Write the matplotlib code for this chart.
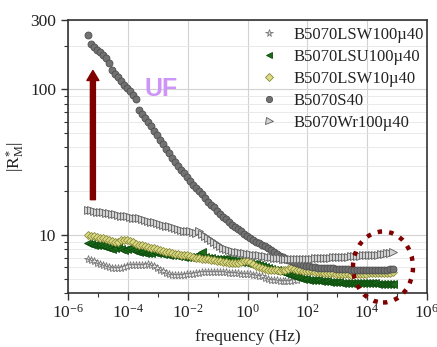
import numpy as np
import matplotlib
matplotlib.use("Agg")
import matplotlib.pyplot as plt
from matplotlib.patches import Ellipse
from matplotlib.ticker import FixedLocator, FixedFormatter, NullFormatter

plt.rcParams['font.family'] = ['Liberation Serif', 'DejaVu Serif']
plt.rcParams['mathtext.fontset'] = 'custom'
plt.rcParams['mathtext.rm'] = 'Liberation Serif'
plt.rcParams['mathtext.it'] = 'Liberation Serif:italic'

# measurement frequencies (log-spaced sweep, 10 points per decade, Hz)
freq = 10 ** np.linspace(-5.33, 4.87, 103)

labels = ['B5070LSW100µ40', 'B5070LSU100µ40', 'B5070LSW10µ40', 'B5070S40', 'B5070Wr100µ40']

lsw100 = [6.9, 6.75, 6.6, 6.45, 6.3, 6.2, 6.1, 6.0, 5.9, 5.9,
          5.9, 5.95, 6.0, 6.1, 6.2, 6.2, 6.2, 6.2, 6.2, 6.25,
          6.3, 6.2, 6.1, 5.95, 5.8, 5.65, 5.5, 5.4, 5.35, 5.3,
          5.3, 5.3, 5.35, 5.38, 5.4, 5.42, 5.45, 5.5, 5.6, 5.6,
          5.6, 5.6, 5.6, 5.6, 5.6, 5.58, 5.55, 5.52, 5.5, 5.48,
          5.45, 5.42, 5.4, 5.4, 5.4, 5.35, 5.3, 5.25, 5.2, 5.1,
          5.0, 4.95, 4.9, 4.88, 4.85, 4.85, 4.85, 4.85, 4.85, 4.88,
          4.9]
lsu100 = [8.8, 8.7, 8.6, 8.55, 8.5, 8.4, 8.3, 8.2, 8.0, 8.1,
          8.4, 8.0, 7.9, 8.0, 8.1, 7.9, 7.8, 7.7, 7.6, 7.55,
          7.5, 7.55, 7.6, 7.55, 7.5, 7.45, 7.4, 7.35, 7.3, 7.25,
          7.2, 7.15, 7.1, 7.1, 7.1, 7.1, 7.2, 7.4, 7.6, 7.1,
          7.0, 6.95, 6.9, 6.88, 6.85, 6.82, 6.8, 6.75, 6.7, 6.65,
          6.6, 6.55, 6.5, 6.45, 6.4, 6.35, 6.3, 6.2, 6.1, 6.0,
          5.9, 5.85, 5.8, 5.75, 5.7, 5.6, 5.5, 5.4, 5.3, 5.2,
          5.15, 5.08, 5.0, 4.98, 4.95, 4.92, 4.9, 4.88, 4.85, 4.82,
          4.8, 4.78, 4.75, 4.75, 4.75, 4.72, 4.7, 4.7, 4.7, 4.7,
          4.7, 4.68, 4.65, 4.65, 4.65, 4.65, 4.65, 4.62, 4.6, 4.6,
          4.6, 4.6, 4.6]
lsw10 = [10.0, 9.9, 9.8, 9.7, 9.6, 9.5, 9.4, 9.2, 9.1, 9.0,
         9.0, 9.2, 9.3, 9.2, 9.1, 8.9, 8.7, 8.6, 8.5, 8.4,
         8.3, 8.2, 8.1, 8.0, 7.9, 7.8, 7.7, 7.6, 7.5, 7.45,
         7.4, 7.35, 7.3, 7.25, 7.2, 7.1, 7.0, 6.95, 6.9, 6.85,
         6.8, 6.75, 6.7, 6.65, 6.6, 6.55, 6.5, 6.45, 6.4, 6.4,
         6.4, 6.5, 6.6, 6.6, 6.5, 6.3, 6.1, 6.0, 5.9, 5.85,
         5.8, 5.78, 5.75, 5.72, 5.7, 5.75, 5.8, 5.85, 5.9, 5.85,
         5.8, 5.75, 5.7, 5.68, 5.65, 5.62, 5.6, 5.58, 5.55, 5.52,
         5.5, 5.48, 5.45, 5.42, 5.4, 5.4, 5.4, 5.38, 5.35, 5.38,
         5.4, 5.4, 5.4, 5.42, 5.45, 5.45, 5.45, 5.48, 5.5, 5.5,
         5.5, 5.52, 5.55]
s40 = [237, 205, 196, 188, 180, 172, 164, 152, 136, 128,
       121, 114, 108, 102, 97, 92, 86, 72, 68, 64,
       60, 56, 52, 48.5, 45, 42, 39, 36.5, 34, 32,
       30, 28, 26.5, 25, 23.5, 22.2, 21, 20, 19, 18,
       17, 16.2, 15.5, 14.7, 14, 13.4, 12.8, 12.3, 11.8, 11.4,
       11.0, 10.6, 10.2, 9.8, 9.5, 9.2, 9.0, 8.8, 8.6, 8.35,
       8.1, 7.85, 7.6, 7.4, 7.2, 7.05, 6.9, 6.75, 6.6, 6.5,
       6.4, 6.3, 6.2, 6.15, 6.1, 6.05, 6.0, 5.98, 5.95, 5.92,
       5.9, 5.9, 5.9, 5.88, 5.85, 5.85, 5.85, 5.82, 5.8, 5.8,
       5.8, 5.8, 5.8, 5.8, 5.8, 5.8, 5.8, 5.8, 5.8, 5.8,
       5.8, 5.82, 5.85]
wr100 = [14.9, 14.8, 14.6, 14.4, 14.3, 14.3, 14.2, 14.1, 14.0, 13.9,
         13.7, 13.6, 13.5, 13.6, 13.3, 13.2, 13.1, 13.0, 12.8, 12.6,
         12.4, 12.3, 12.2, 12.1, 11.9, 11.8, 11.6, 11.5, 11.3, 11.1,
         11.0, 10.8, 10.7, 10.6, 10.6, 10.5, 10.4, 10.6, 10.2, 9.9,
         9.6, 9.3, 9.0, 8.7, 8.4, 8.2, 8.0, 7.9, 7.8, 7.7,
         7.6, 7.55, 7.5, 7.45, 7.4, 7.35, 7.3, 7.25, 7.2, 7.15,
         7.1, 7.05, 7.0, 7.0, 6.95, 6.9, 6.9, 6.9, 6.85, 6.85,
         6.85, 6.85, 6.9, 6.9, 6.9, 6.9, 6.95, 6.95, 7.0, 7.0,
         7.0, 7.0, 7.05, 7.05, 7.1, 7.1, 7.1, 7.1, 7.15, 7.15,
         7.2, 7.2, 7.25, 7.25, 7.3, 7.3, 7.35, 7.35, 7.4, 7.45,
         7.5, 7.55, 7.6]

xticks = [1e-6, 1e-4, 1e-2, 1e0, 1e2, 1e4, 1e6]
xticklabels = [r'$10^{-6}$', r'$10^{-4}$', r'$10^{-2}$', r'$10^{0}$', r'$10^{2}$', r'$10^{4}$', r'$10^{6}$']
yticks = [10, 100, 300]
yticklabels = ['10', '100', '300']

fig = plt.figure(figsize=(4.37, 3.47), dpi=100)
ax = fig.add_axes([68/437, 1-293/347, (427-68)/437, (293-20)/347])
ax.set_xscale('log')
ax.set_yscale('log')

series = [
    (lsw100, dict(marker='*', ms=6, mfc='#e6e6e6', mec='#777777', mew=0.6)),
    (lsu100, dict(marker='<', ms=5.5, mfc='#1d6b1d', mec='#0b4a0b', mew=0.6)),
    (lsw10, dict(marker='D', ms=4.2, mfc='#dcdc86', mec='#8a8a3a', mew=0.6)),
    (s40, dict(marker='o', ms=5, mfc='#727272', mec='#4e4e4e', mew=0.6)),
    (wr100, dict(marker='>', ms=5.6, mfc='#d2d2d2', mec='#5e5e5e', mew=0.6)),
]
for (vals, st), lab in zip(series, labels):
    ax.plot(freq[:len(vals)], vals, linestyle='none', label=lab, zorder=3, **st)

ax.set_xlim(1e-6, 1e6)
ax.set_ylim(4, 300)

ax.xaxis.set_major_locator(FixedLocator(xticks))
ax.xaxis.set_major_formatter(FixedFormatter(xticklabels))
ax.xaxis.set_minor_locator(FixedLocator([1e-5, 1e-3, 1e-1, 1e1, 1e3, 1e5]))
ax.xaxis.set_minor_formatter(NullFormatter())
ax.yaxis.set_major_locator(FixedLocator(yticks))
ax.yaxis.set_major_formatter(FixedFormatter(yticklabels))
ax.yaxis.set_minor_locator(FixedLocator([4, 5, 6, 7, 8, 9, 20, 30, 40, 50, 60, 70, 80, 90, 200]))
ax.yaxis.set_minor_formatter(NullFormatter())

ax.tick_params(which='major', direction='out', length=5, width=1.0, labelsize=12.5, colors='#333333', labelcolor='#222222')
ax.tick_params(which='minor', direction='out', length=3, width=0.8, colors='#333333')
ax.tick_params(axis='x', which='major', pad=3)

ax.grid(True, which='major', color='#d2d2d2', lw=0.8, zorder=0)
ax.grid(True, which='minor', axis='y', color='#e6e6e6', lw=0.6, zorder=0)
ax.set_axisbelow(True)
for sp in ax.spines.values():
    sp.set_color('#333333')
    sp.set_linewidth(1.2)

ax.set_xlabel('frequency (Hz)', fontsize=12.5, color='#222222', labelpad=5)
ax.set_ylabel(r'$|\mathrm{R}^{*}_{\mathrm{M}}|$', fontsize=12.5, color='#222222', labelpad=2)

# arrow and annotation
ax.annotate('', xy=(6.8e-6, 135), xytext=(6.8e-6, 17.5),
            arrowprops=dict(width=3.6, headwidth=8.6, headlength=7.2, color='#800000', shrink=0),
            zorder=2)
ax.text(1.26e-3, 100, 'UF', fontsize=18, fontweight='bold', color='#cd95f7',
        family='Liberation Sans', ha='center', va='center', zorder=4)

ell = Ellipse((383/437, 1-267/347), 60/437, 71/347, transform=fig.transFigure,
              fill=False, edgecolor='#800000', lw=3.2, linestyle=(0, (1, 1.6)), clip_on=False, zorder=5)
fig.add_artist(ell)

leg = ax.legend(loc='upper right', bbox_to_anchor=(424/437, 1-27/347), bbox_transform=fig.transFigure,
                frameon=False, fontsize=12, handlelength=1.0, handletextpad=1.0,
                labelspacing=0.36, borderaxespad=0, borderpad=0.0, markerscale=0.9)
for t in leg.get_texts():
    t.set_color('#222222')

fig.savefig('out.png', dpi=100)
